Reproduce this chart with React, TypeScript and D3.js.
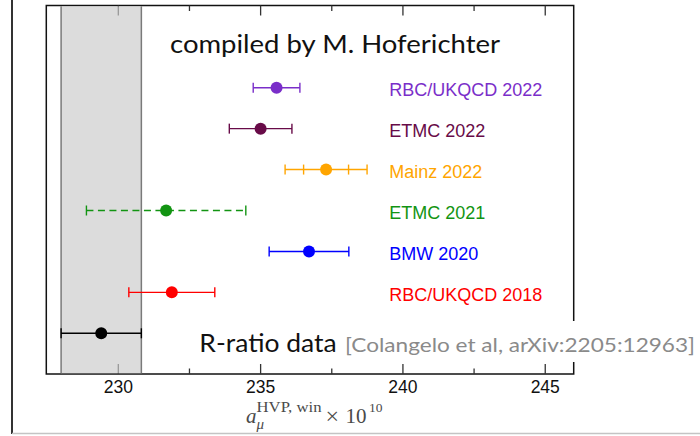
import React from "react";
import * as d3 from "d3";

const labels = ["RBC/UKQCD 2022", "ETMC 2022", "Mainz 2022", "ETMC 2021", "BMW 2020", "RBC/UKQCD 2018", "R-ratio data"];
const centers = [235.56, 235.0, 237.3, 231.68, 236.7, 231.88, 229.4];
const totalErr = [0.82, 1.1, 1.44, 2.8, 1.4, 1.51, 1.41];
const statErr: (number | null)[] = [null, null, 0.79, null, null, null, null];
const colors = ["#7a2ec9", "#680b48", "#ffa500", "#129412", "#0000ff", "#ff0000", "#000000"];
const dashed = [false, false, false, true, false, false, false];
const majorTicks = [230, 235, 240, 245];
const minorTicks = [232.5, 237.5, 242.5];
const band = [227.99, 230.81];
const title = "compiled by M. Hoferichter";
const citation = "[Colangelo et al, arXiv:2205:12963]";

const W = 700, H = 436;
const left = 46.3, right = 573.7, top = 5.5, bottom = 374;

export default function App() {
  const x = d3.scaleLinear().domain([227.47, 246.0]).range([left, right]);
  const y = d3.scalePoint<string>().domain(labels).range([87.7, 333.3]);
  const capH = 5;

  return (
    <svg width={W} height={H} style={{ position: "absolute", left: 0, top: 0, background: "#fff" }}>
      {/* outer frame */}
      <line x1={12} x2={12} y1={0} y2={434} stroke="#333" strokeWidth={2} />
      <line x1={12} x2={700} y1={433.5} y2={433.5} stroke="#c4c4c4" strokeWidth={1.5} />

      {/* plot frame */}
      <rect x={left} y={top} width={right - left} height={bottom - top} fill="none" stroke="#111" strokeWidth={1.5} />
      {majorTicks.map((t) => (
        <g key={"M" + t}>
          <line x1={x(t)} x2={x(t)} y1={top} y2={top + 10} stroke="#333" strokeWidth={1.3} />
          <line x1={x(t)} x2={x(t)} y1={bottom} y2={bottom - 10} stroke="#333" strokeWidth={1.3} />
          <text x={x(t)} y={393} textAnchor="middle" fontFamily="Liberation Sans, Arial, sans-serif" fontSize={17.5} fill="#111">
            {t}
          </text>
        </g>
      ))}
      {minorTicks.map((t) => (
        <g key={"m" + t}>
          <line x1={x(t)} x2={x(t)} y1={top} y2={top + 5.5} stroke="#333" strokeWidth={1.3} />
          <line x1={x(t)} x2={x(t)} y1={bottom} y2={bottom - 5.5} stroke="#333" strokeWidth={1.3} />
        </g>
      ))}

      {/* R-ratio band */}
      <rect x={x(band[0])} y={top + 0.75} width={x(band[1]) - x(band[0])} height={bottom - top - 1.5} fill="rgb(203,203,203)" fillOpacity={0.67} />
      {band.map((b, i) => (
        <line key={"b" + i} x1={x(b)} x2={x(b)} y1={top + 0.75} y2={bottom - 0.75} stroke="#7a7a7a" strokeWidth={1.5} />
      ))}

      <text x={170} y={53.3} fontFamily="Lato, sans-serif" fontSize={24.5} fill="#111" textLength={330} lengthAdjust="spacingAndGlyphs">
        {title}
      </text>

      {/* data */}
      {labels.map((lab, i) => {
        const cy = y(lab)!;
        const lo = x(centers[i] - totalErr[i]);
        const hi = x(centers[i] + totalErr[i]);
        const c = colors[i];
        const s = statErr[i];
        return (
          <g key={lab}>
            <line x1={lo} x2={hi} y1={cy} y2={cy} stroke={c} strokeWidth={1.4} strokeDasharray={dashed[i] ? "7,4.5" : undefined} />
            <line x1={lo} x2={lo} y1={cy - capH} y2={cy + capH} stroke={c} strokeWidth={1.4} />
            <line x1={hi} x2={hi} y1={cy - capH} y2={cy + capH} stroke={c} strokeWidth={1.4} />
            {s !== null && (
              <>
                <line x1={x(centers[i] - s)} x2={x(centers[i] - s)} y1={cy - capH} y2={cy + capH} stroke={c} strokeWidth={1.4} />
                <line x1={x(centers[i] + s)} x2={x(centers[i] + s)} y1={cy - capH} y2={cy + capH} stroke={c} strokeWidth={1.4} />
              </>
            )}
            <circle cx={x(centers[i])} cy={cy} r={6} fill={c} />
            {i < labels.length - 1 && (
              <text x={389.3} y={cy + 8.4} fontFamily="Liberation Sans, Arial, sans-serif" fontSize={18} fill={c}>
                {lab}
              </text>
            )}
          </g>
        );
      })}

      {/* R-ratio label with white box */}
      <rect x={194} y={321} width={504} height={41} fill="#fff" />
      <text x={199.3} y={352.3} fontFamily="Lato, sans-serif" fontSize={24.5} fill="#111" textLength={137.4} lengthAdjust="spacingAndGlyphs">
        {labels[labels.length - 1]}
      </text>
      <text x={345} y={352.3} fontFamily="Lato, sans-serif" fontSize={19} fill="#8a8a8a" textLength={350} lengthAdjust="spacingAndGlyphs">
        {citation}
      </text>

      {/* x axis title */}
      <g fontFamily="Liberation Serif, 'DejaVu Serif', serif" fill="#4a4a4a">
        <text x={246} y={423} fontSize={21} fontStyle="italic">a</text>
        <text x={256.5} y={411.5} fontSize={15} textLength={65} lengthAdjust="spacingAndGlyphs">HVP, win</text>
        <text x={256.5} y={428.5} fontSize={15} fontStyle="italic">μ</text>
        <text x={325.5} y={423.5} fontSize={24}>×</text>
        <text x={345.5} y={423} fontSize={21}>10</text>
        <text x={369} y={411.5} fontSize={13.5}>10</text>
      </g>
    </svg>
  );
}
